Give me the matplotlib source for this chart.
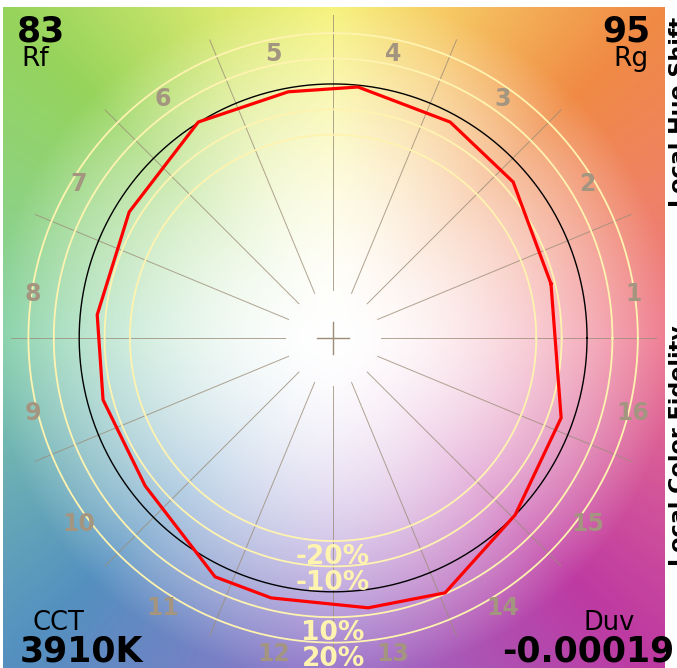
import numpy as np
import matplotlib
matplotlib.use("Agg")
import matplotlib.pyplot as plt

# values
Rf = 83
Rg = 95
CCT = "3910K"
Duv = "-0.00019"
hue_bins = [str(i) for i in range(1, 17)]
ring_levels = [-0.2, -0.1, 0.1, 0.2]
ring_labels = ["-20%", "-10%", "10%", "20%"]

# normalized test vector (reference circle = 1)
test_x = [0.858, 0.709, 0.461, 0.098, -0.177, -0.531, -0.803, -0.929,
          -0.906, -0.740, -0.465, -0.244, 0.138, 0.441, 0.717, 0.898]
test_y = [0.213, 0.614, 0.850, 0.988, 0.969, 0.850, 0.496, 0.091,
          -0.244, -0.583, -0.941, -1.024, -1.063, -1.004, -0.697, -0.315]

# background hue anchors (angle in degrees -> rgb)
bg_angles = [0, 45, 70, 90, 110, 135, 180, 225, 270, 315, 360]
bg_colors = [(238, 120, 142), (240, 138, 68), (246, 200, 100), (246, 242, 118),
             (215, 232, 110), (150, 212, 92), (132, 208, 168), (84, 144, 192),
             (150, 114, 202), (190, 58, 162), (238, 120, 142)]

W, H = 677, 668
fig = plt.figure(figsize=(W / 100, H / 100), dpi=100)
fig.patch.set_facecolor("white")
ax = fig.add_axes([3 / W, 0, 662 / W, 661 / H])
xmin, xmax, ymin, ymax = -1.3, 1.307, -1.3, 1.303
ax.set_xlim(xmin, xmax)
ax.set_ylim(ymin, ymax)
ax.axis("off")

# hue background fading to white at the centre
gx, gy = np.meshgrid(np.linspace(xmin, xmax, 400), np.linspace(ymax, ymin, 400))
ang = np.degrees(np.arctan2(gy, gx)) % 360
rad = np.hypot(gx, gy)
cols = np.array(bg_colors, dtype=float) / 255
base = np.stack([np.interp(ang, bg_angles, cols[:, k]) for k in range(3)], axis=-1)
s = np.clip(rad / 1.35, 0, 1) ** 1.8
img = 1 - s[..., None] * (1 - base)
ax.imshow(img, extent=[xmin, xmax, ymin, ymax], interpolation="bilinear", zorder=0)

# bin boundary lines and centre cross
for k in range(16):
    a = np.radians(22.5 * k)
    ax.plot([0.19 * np.cos(a), 1.27 * np.cos(a)], [0.19 * np.sin(a), 1.27 * np.sin(a)],
            color="#9c8d78", lw=0.7, alpha=0.8, zorder=1)
ax.plot([-0.063, 0.063], [0, 0], color="#9c8d78", lw=1.0, zorder=1)
ax.plot([0, 0], [-0.063, 0.063], color="#9c8d78", lw=1.0, zorder=1)

# percentage rings
t = np.linspace(0, 2 * np.pi, 400)
for lev, lab in zip(ring_levels, ring_labels):
    r = 1 + lev
    ax.plot(r * np.cos(t), r * np.sin(t), color="#fff3b0", lw=1.3, zorder=2)
    ax.text(0, -r - 0.091, lab, ha="center", va="baseline", fontsize=19,
            fontweight="bold", color="#fff3b0", zorder=5)

# reference circle
ax.plot(np.cos(t), np.sin(t), color="black", lw=1.0, zorder=3)

# test vector
ax.plot(test_x + test_x[:1], test_y + test_y[:1], color="red", lw=2.3, zorder=4)

# hue bin numbers
for k, lab in enumerate(hue_bins):
    a = np.radians(11.25 + 22.5 * k)
    ax.text(1.205 * np.cos(a), 1.205 * np.sin(a) - 0.059 - 0.031, lab,
            ha="center", va="baseline", fontsize=17, fontweight="bold",
            color="#a39580", zorder=5)


def px(x, y):
    return x / W, 1 - y / H


fig.text(*px(17, 42), str(Rf), fontsize=25, fontweight="bold", ha="left", va="baseline")
fig.text(*px(21, 66), "Rf", fontsize=19, ha="left", va="baseline")
fig.text(*px(650, 42), str(Rg), fontsize=25, fontweight="bold", ha="right", va="baseline")
fig.text(*px(648, 66), "Rg", fontsize=19, ha="right", va="baseline")
fig.text(*px(32, 630), "CCT", fontsize=18.5, ha="left", va="baseline")
fig.text(*px(20, 662), CCT, fontsize=25, fontweight="bold", ha="left", va="baseline")
fig.text(*px(635, 630), "Duv", fontsize=18.5, ha="right", va="baseline")
fig.text(*px(674, 662), Duv, fontsize=25, fontweight="bold", ha="right", va="baseline")

fig.text(*px(669, 112), "Local Hue Shift", fontsize=16, fontweight="bold",
         rotation=90, ha="left", va="center")
fig.text(*px(669, 446), "Local Color Fidelity", fontsize=16, fontweight="bold",
         rotation=90, ha="left", va="center")

fig.savefig("out.png", dpi=100, facecolor="white")
